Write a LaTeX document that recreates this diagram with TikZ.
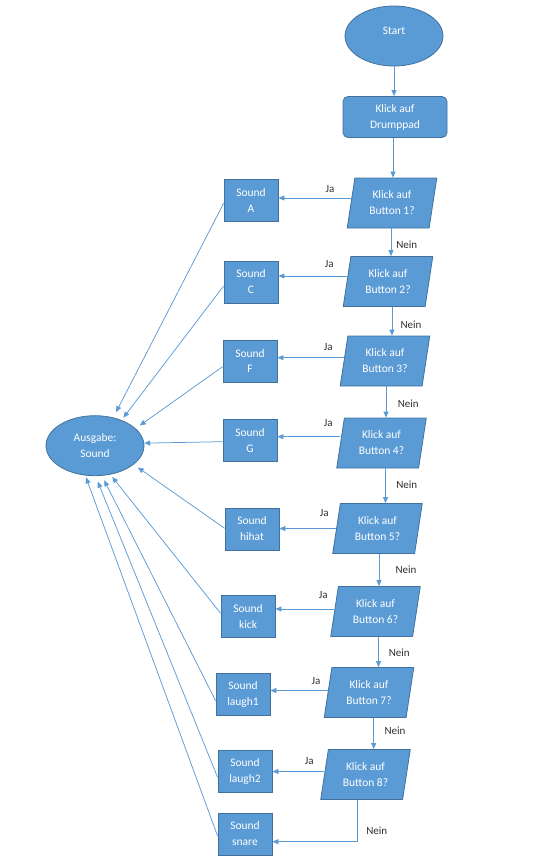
\documentclass[tikz,border=0pt]{standalone}
\usepackage{fontspec}
\setmainfont{Carlito}
\usetikzlibrary{shapes.geometric,arrows.meta}
\definecolor{obl}{HTML}{5B9BD5}
\definecolor{obd}{HTML}{41719C}
\definecolor{lbl}{HTML}{303030}
\begin{document}
\begin{tikzpicture}[x=1pt,y=-1pt,
 base/.style={fill=obl,draw=obd,line width=0.8pt,text=white,align=center,inner sep=0pt,font=\fontsize{11.5}{16}\selectfont},
 term/.style={base,ellipse,minimum width=98pt,minimum height=60pt},
 proc/.style={base,rectangle,rounded corners=5pt,minimum width=104pt,minimum height=41pt},
 dec/.style={base,trapezium,trapezium left angle=79,trapezium right angle=101,trapezium stretches=true,minimum width=90pt,minimum height=50pt},
 snd/.style={base,rectangle,minimum width=54pt,minimum height=42pt},
 arr/.style={draw=obl,line width=0.75pt,-{Triangle[length=6pt,width=5pt]}},
 lab/.style={text=lbl,font=\fontsize{11}{12}\selectfont,inner sep=0pt}]
\useasboundingbox (0,0) rectangle (541,863);

% main column
\node[term] (start) at (394,36) {Start\\[-6pt]\mbox{}};
\node[proc] (drum) at (395,117) {Klick auf\\Drumppad};
\node[dec] (b1) at (392,203) {Klick auf\\Button 1?};
\node[dec] (b2) at (388,281.5) {Klick auf\\Button 2?};
\node[dec] (b3) at (385,361) {Klick auf\\Button 3?};
\node[dec] (b4) at (381.5,443) {Klick auf\\Button 4?};
\node[dec] (b5) at (377.5,528.5) {Klick auf\\Button 5?};
\node[dec] (b6) at (375.5,611.5) {Klick auf\\Button 6?};
\node[dec] (b7) at (369,692.5) {Klick auf\\Button 7?};
\node[dec] (b8) at (365.5,774.5) {Klick auf\\Button 8?};

% sound boxes
\node[snd] (sA) at (251,200.5) {Sound\\A};
\node[snd] (sC) at (251,282) {Sound\\C};
\node[snd] (sF) at (250,361) {Sound\\F};
\node[snd] (sG) at (250,440.5) {Sound\\G};
\node[snd] (sH) at (252,529) {Sound\\hihat};
\node[snd] (sK) at (248,616.5) {Sound\\kick};
\node[snd] (sL1) at (243,694) {Sound\\laugh1};
\node[snd] (sL2) at (245,771) {Sound\\laugh2};
\node[snd] (sS) at (245,834) {Sound\\snare};

\node[term] (aus) at (95,445.7) {Ausgabe:\\Sound};

% vertical flow
\draw[arr] (start.south) -- (start.south |- drum.north);
\draw[arr] ([xshift=-2]drum.south) -- ([xshift=-2]drum.south |- b1.north);
\draw[arr] ([xshift=-1]b1.south) -- ([xshift=-1]b1.south |- b2.north);
\draw[arr] ([xshift=4]b2.south) -- ([xshift=4]b2.south |- b3.north);
\draw[arr] ([xshift=1]b3.south) -- ([xshift=1]b3.south |- b4.north);
\draw[arr] ([xshift=4]b4.south) -- ([xshift=4]b4.south |- b5.north);
\draw[arr] ([xshift=1.5]b5.south) -- ([xshift=1.5]b5.south |- b6.north);
\draw[arr] ([xshift=3]b6.south) -- ([xshift=3]b6.south |- b7.north);
\draw[arr] ([xshift=4.7]b7.south) -- ([xshift=4.7]b7.south |- b8.north);
\draw[arr] ([xshift=-8]b8.south) |- ([yshift=-7.7]sS.east);

% Ja arrows
\draw[arr] ([yshift=5]b1.west) -- ([yshift=5]b1.west -| sA.east);
\draw[arr] ([yshift=5.5]b2.west) -- ([yshift=5.5]b2.west -| sC.east);
\draw[arr] ([yshift=3.3]b3.west) -- ([yshift=3.3]b3.west -| sF.east);
\draw[arr] ([yshift=6.3]b4.west) -- ([yshift=6.3]b4.west -| sG.east);
\draw[arr] (b5.west) -- (b5.west -| sH.east);
\draw[arr] ([yshift=2.5]b6.west) -- ([yshift=2.5]b6.west -| sK.east);
\draw[arr] ([yshift=2]b7.west) -- ([yshift=2]b7.west -| sL1.east);
\draw[arr] ([yshift=3]b8.west) -- ([yshift=3]b8.west -| sL2.east);

% to output
\draw[arr,shorten >=6pt] ([yshift=-2.8]sA.west) -- (aus.57);
\draw[arr,shorten >=3pt] ([yshift=-4]sC.west) -- (aus.44);
\draw[arr,shorten >=5pt] ([yshift=-5.7]sF.west) -- (aus.23);
\draw[arr] ([yshift=-1.2]sG.west) -- (aus.3);
\draw[arr,shorten >=5pt] ([yshift=0.7]sH.west) -- (aus.-26);
\draw[arr,shorten >=3pt] ([yshift=3.2]sK.west) -- (aus.-62);
\draw[arr,shorten >=5pt] ([yshift=-6.7]sL1.west) -- (aus.-77);
\draw[arr,shorten >=6pt] ([yshift=-6.3]sL2.west) -- (aus.-89);
\draw[arr,shorten >=2pt] ([yshift=-2]sS.west) -- (aus.-108);

% labels
\node[lab] (j1) at (330,189) {Ja};
\node[lab] (j2) at (329.3,264) {Ja};
\node[lab] (j3) at (328.3,347.3) {Ja};
\node[lab] (j4) at (328.3,422.7) {Ja};
\node[lab] (j5) at (324.3,513.3) {Ja};
\node[lab] (j6) at (323.3,595) {Ja};
\node[lab] (j7) at (316,681) {Ja};
\node[lab] (j8) at (309.3,761) {Ja};
\node[lab] (n1) at (406.7,245) {Nein};
\node[lab] (n2) at (411,324.3) {Nein};
\node[lab] (n3) at (408.3,403.3) {Nein};
\node[lab] (n4) at (406.7,485) {Nein};
\node[lab] (n5) at (406,570) {Nein};
\node[lab] (n6) at (399.3,652.7) {Nein};
\node[lab] (n7) at (395,730.7) {Nein};
\node[lab] (n8) at (376.7,830.7) {Nein};
\end{tikzpicture}
\end{document}
